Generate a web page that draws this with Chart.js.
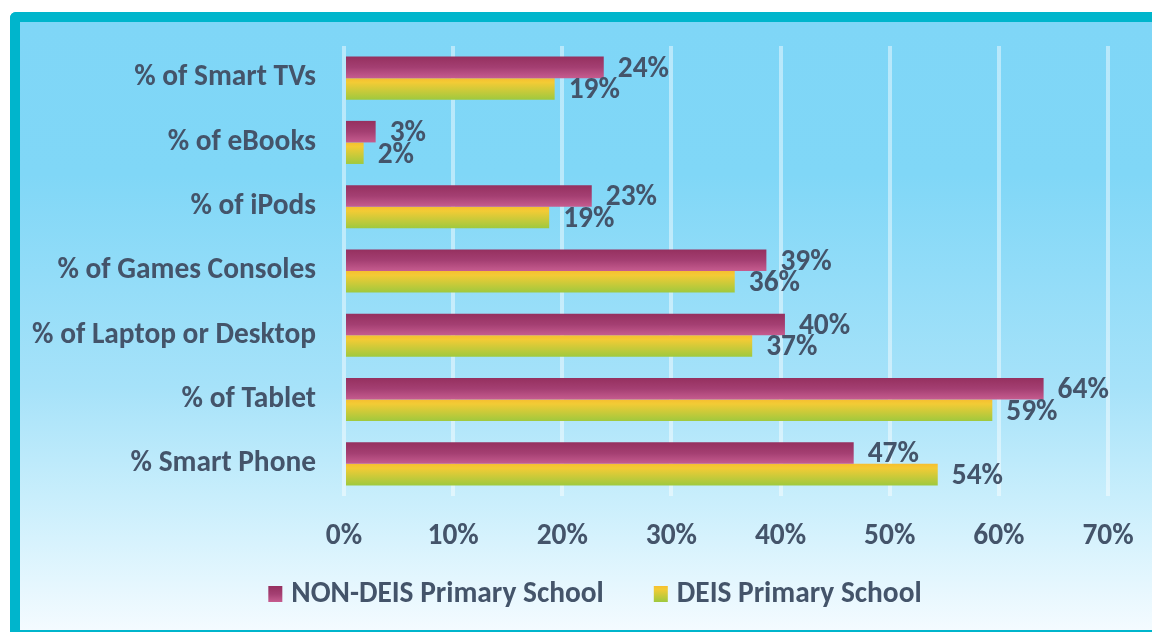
<!DOCTYPE html>
<html>
<head>
<meta charset="utf-8">
<script src="https://cdn.jsdelivr.net/npm/chart.js@4.4.1/dist/chart.umd.min.js"></script>
<style>
  body { margin: 0; background: #fff; overflow: hidden; }
  #frame {
    position: absolute;
    left: 10px;
    top: 12px;
    width: 1160px;
    height: 608px;
    border-left: 10px solid #00b5cc;
    border-top: 10px solid #00b5cc;
    border-bottom: 2px solid #00b5cc;
    border-top-left-radius: 6px;
    background: linear-gradient(to bottom, #7fd6f7 0%, #80d7f7 25%, #a6e2f9 60%, #c8eefc 78%, #f4fbff 100%);
  }
  canvas { position: absolute; left: 0; top: 0; }
</style>
</head>
<body>
<div id="frame"><canvas id="chart" width="1132" height="608"></canvas></div>
<script>
const categories = [
  '% of Smart TVs',
  '% of eBooks',
  '% of iPods',
  '% of Games Consoles',
  '% of Laptop or Desktop',
  '% of Tablet',
  '% Smart Phone',
];
const nonDeis = [23.8, 2.9, 22.7, 38.7, 40.4, 64.1, 46.7];
const deis = [19.3, 1.8, 18.8, 35.8, 37.4, 59.4, 54.4];
const seriesNames = ['NON-DEIS Primary School', 'DEIS Primary School'];
const xTicks = [0, 10, 20, 30, 40, 50, 60, 70];

const FONT = 'Carlito, Calibri, Lato, sans-serif';
const FONT_SIZE = 29.4;
const TEXT = '#44546a';
const CAT_PCT = 0.67;

const stops = [
  [[0, '#95305f'], [0.5, '#a43f72'], [1, '#c65c8f']],
  [[0, '#f6bf30'], [0.2, '#f3cb35'], [1, '#9fc93e']],
];

function makeGradient(ctx, top, bottom, s) {
  const g = ctx.createLinearGradient(0, top, 0, bottom);
  s.forEach(([o, c]) => g.addColorStop(o, c));
  return g;
}

function barFill(context) {
  const chart = context.chart;
  const y = chart.scales.y;
  const fallback = stops[context.datasetIndex][1][1];
  if (!y || context.dataIndex === undefined) return fallback;
  const center = y.getPixelForValue(context.dataIndex);
  const thick = (y.height / categories.length) * CAT_PCT / 2;
  if (!isFinite(center) || !isFinite(thick) || thick <= 0) return fallback;
  const top = context.datasetIndex === 0 ? center - thick : center;
  return makeGradient(chart.ctx, top, top + thick, stops[context.datasetIndex]);
}

// value labels at the end of each bar
const valueLabels = {
  id: 'valueLabels',
  afterDatasetsDraw(chart) {
    const ctx = chart.ctx;
    ctx.save();
    ctx.font = 'bold ' + FONT_SIZE + 'px ' + FONT;
    ctx.fillStyle = TEXT;
    ctx.textAlign = 'left';
    ctx.textBaseline = 'middle';
    chart.data.datasets.forEach((ds, i) => {
      chart.getDatasetMeta(i).data.forEach((bar, j) => {
        ctx.fillText(Math.round(ds.data[j]) + '%', bar.x + 14, bar.y + 2);
      });
    });
    ctx.restore();
  },
};

// legend drawn below the axis
const bottomLegend = {
  id: 'bottomLegend',
  afterDraw(chart) {
    const ctx = chart.ctx;
    ctx.save();
    ctx.font = 'bold ' + FONT_SIZE + 'px ' + FONT;
    const box = 14, gap = 9, spacing = 50;
    const widths = seriesNames.map((n) => box + gap + ctx.measureText(n).width);
    const total = widths[0] + spacing + widths[1];
    let x = 575 - total / 2;
    const cy = 572;
    seriesNames.forEach((n, i) => {
      ctx.fillStyle = makeGradient(ctx, cy - 8, cy + 8, stops[i]);
      ctx.fillRect(x, cy - 8, box, 16);
      ctx.fillStyle = TEXT;
      ctx.textAlign = 'left';
      ctx.textBaseline = 'middle';
      ctx.fillText(n, x + box + gap, cy + 1);
      x += widths[i] + spacing;
    });
    ctx.restore();
  },
};

new Chart(document.getElementById('chart').getContext('2d'), {
  type: 'bar',
  data: {
    labels: categories,
    datasets: [
      { label: seriesNames[0], data: nonDeis, backgroundColor: barFill },
      { label: seriesNames[1], data: deis, backgroundColor: barFill },
    ],
  },
  options: {
    indexAxis: 'y',
    responsive: false,
    animation: false,
    categoryPercentage: CAT_PCT,
    barPercentage: 1,
    layout: { padding: { left: 0, right: 44, top: 24, bottom: 84 } },
    plugins: {
      legend: { display: false },
      tooltip: { enabled: false },
    },
    scales: {
      x: {
        min: xTicks[0],
        max: xTicks[xTicks.length - 1],
        afterBuildTicks: (scale) => { scale.ticks = xTicks.map((v) => ({ value: v })); },
        afterFit: (scale) => {
          scale.height = 50;
          scale.paddingLeft = 0;
          scale.paddingRight = 0;
        },
        grid: { color: 'rgba(255,255,255,0.45)', lineWidth: 4, drawTicks: false },
        border: { display: false },
        ticks: {
          padding: 23,
          color: TEXT,
          font: { family: FONT, size: FONT_SIZE, weight: 'bold' },
          callback: (v) => v + '%',
        },
      },
      y: {
        afterFit: (scale) => {
          scale.width = 324;
          scale.paddingTop = 0;
          scale.paddingBottom = 0;
        },
        grid: { display: false, drawTicks: false },
        border: { display: false },
        ticks: {
          padding: 28,
          color: TEXT,
          font: { family: FONT, size: FONT_SIZE, weight: 'bold' },
        },
      },
    },
  },
  plugins: [valueLabels, bottomLegend],
});
</script>
</body>
</html>
